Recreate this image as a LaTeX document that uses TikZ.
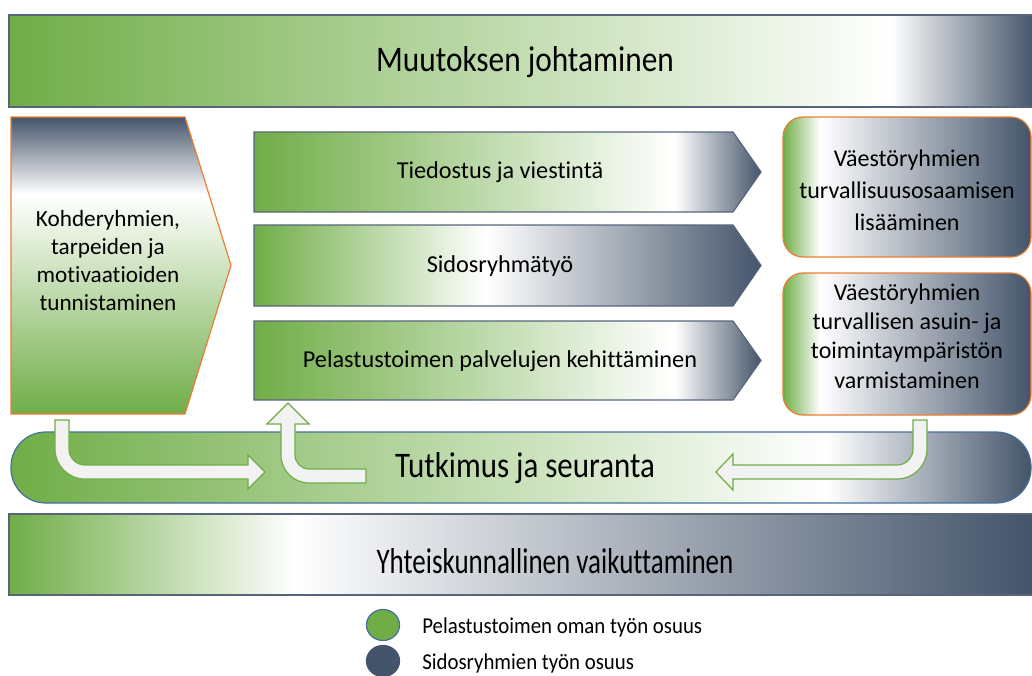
\documentclass[tikz,border=0pt]{standalone}
\usepackage{fontspec}
\setmainfont{Carlito}[Ligatures={NoCommon,NoContextual}]
\usetikzlibrary{shadings}
\definecolor{G}{HTML}{70AD47}
\definecolor{D}{HTML}{44546A}
\definecolor{OR}{HTML}{ED7D31}
\definecolor{BL}{HTML}{41719C}
\definecolor{SL}{HTML}{56657A}
\definecolor{AF}{HTML}{F2F2F2}
\pgfdeclarehorizontalshading{gTop}{100bp}{color(0bp)=(G); color(25bp)=(G); color(68bp)=(white); color(75bp)=(D); color(100bp)=(D)}
\pgfdeclarehorizontalshading{gChevA}{100bp}{color(0bp)=(G); color(25bp)=(G); color(66.5bp)=(white); color(75bp)=(D); color(100bp)=(D)}
\pgfdeclarehorizontalshading{gChevB}{100bp}{color(0bp)=(G); color(25bp)=(G); color(48bp)=(white); color(75bp)=(D); color(100bp)=(D)}
\pgfdeclarehorizontalshading{gBox}{100bp}{color(0bp)=(G); color(25bp)=(G); color(32.5bp)=(white); color(75bp)=(D); color(100bp)=(D)}
\pgfdeclarehorizontalshading{gMid}{100bp}{color(0bp)=(G); color(25bp)=(G); color(65bp)=(white); color(75bp)=(D); color(100bp)=(D)}
\pgfdeclarehorizontalshading{gBot}{100bp}{color(0bp)=(G); color(25bp)=(G); color(39bp)=(white); color(75bp)=(D); color(100bp)=(D)}
\pgfdeclareverticalshading{gLeft}{100bp}{color(0bp)=(G); color(25bp)=(G); color(62bp)=(white); color(75bp)=(D); color(100bp)=(D)}
\tikzset{
  band/.style={draw=SL, line width=0.9pt},
  chev/.style={draw=SL, line width=0.9pt},
  obox/.style={draw=OR, line width=0.9pt, rounded corners=15pt},
  barrow/.style={fill=AF, draw=G, line width=0.9pt},
  bigtxt/.style={font=\fontsize{27pt}{32pt}\selectfont, inner sep=0pt},
  chevtxt/.style={font=\fontsize{18.2pt}{22pt}\selectfont, inner sep=0pt},
  lefttxt/.style={font=\fontsize{17.4pt}{21pt}\selectfont, align=center, inner sep=0pt},
  boxtxtA/.style={font=\fontsize{18pt}{24pt}\selectfont, align=center, inner sep=0pt},
  boxtxtB/.style={font=\fontsize{18pt}{22pt}\selectfont, align=center, inner sep=0pt},
  legtxt/.style={font=\fontsize{17pt}{20pt}\selectfont, anchor=west, inner sep=0pt},
}
\begin{document}
\begin{tikzpicture}[x=0.75pt,y=-0.75pt]
\path[use as bounding box] (0,0) rectangle (1032,675);
\clip (0,0) rectangle (1032,675);
\fill[white] (0,0) rectangle (1032,675);

% top band
\path[band, shading=gTop] (9,15) rectangle (1034,107);
\node[bigtxt] (top) at (525,62) {\scalebox{0.87}[1]{Muutoksen johtaminen}};

% left pentagon
\path[draw=OR, line width=0.9pt, shading=gLeft] (11,117) -- (185,117) -- (231,265.5) -- (185,414) -- (11,414) -- cycle;
\node[lefttxt] (left) at (108,261) {Kohderyhmien,\\tarpeiden ja\\motivaatioiden\\tunnistaminen};

% chevrons
\path[chev, shading=gChevA] (254,132) -- (733,132) -- (761,172) -- (733,212) -- (254,212) -- cycle;
\node[chevtxt] (c1) at (500,172) {Tiedostus ja viestintä};
\path[chev, shading=gChevB] (254,225) -- (733,225) -- (761,265.5) -- (733,306) -- (254,306) -- cycle;
\node[chevtxt] (c2) at (500,266) {Sidosryhmätyö};
\path[chev, shading=gChevA] (254,321) -- (733,321) -- (761,360.5) -- (733,400) -- (254,400) -- cycle;
\node[chevtxt] (c3) at (500,361) {Pelastustoimen palvelujen kehittäminen};

% right boxes
\path[obox, shading=gBox] (783,117) rectangle (1031,257);
\node[boxtxtA] (r1) at (907,190) {Väestöryhmien\\turvallisuusosaamisen\\lisääminen};
\path[obox, shading=gBox] (783,273) rectangle (1031,415);
\node[boxtxtB] (r2) at (907,336) {Väestöryhmien\\turvallisen asuin- ja\\toimintaympäristön\\varmistaminen};

% middle band
\path[draw=BL, line width=0.9pt, rounded corners=26pt, shading=gMid] (11,432) rectangle (1031,503);

% block arrows
\path[barrow] (55,420) -- (55,449) .. controls (55,465.6) and (68.4,479) .. (85,479) -- (248,479) -- (248,489) -- (265,472) -- (248,455) -- (248,465) -- (85,465) .. controls (76.2,465) and (69,457.8) .. (69,449) -- (69,420) -- cycle;
\path[barrow] (288,403) -- (309,424) -- (295,424) -- (295,455) .. controls (295,462.7) and (301.3,469) .. (309,469) -- (366,469) -- (366,483) -- (309,483) .. controls (293.5,483) and (281,470.5) .. (281,455) -- (281,424) -- (267,424) -- cycle;
\path[barrow] (913,420) -- (927,420) -- (927,449) .. controls (927,465.6) and (913.6,479) .. (897,479) -- (733,479) -- (733,490) -- (716,472) -- (733,454) -- (733,465) -- (897,465) .. controls (905.8,465) and (913,457.8) .. (913,449) -- cycle;

\node[bigtxt] (mid) at (525,468) {\scalebox{0.86}[1]{Tutkimus ja seuranta}};

% bottom band
\path[band, shading=gBot] (9,514) rectangle (1034,595);
\node[bigtxt] (bot) at (555,561) {\scalebox{0.75}[1]{Yhteiskunnallinen vaikuttaminen}};

% legend
\path[fill=G, draw=BL, line width=0.9pt] (383,625) ellipse [x radius=16.5, y radius=15.5];
\node[legtxt] (l1) at (422,627) {\scalebox{0.92}[1]{Pelastustoimen oman työn osuus}};
\path[fill=D, draw=D, line width=0.9pt] (383,661) ellipse [x radius=16.5, y radius=15.5];
\node[legtxt] (l2) at (422,663) {\scalebox{0.92}[1]{Sidosryhmien työn osuus}};
\end{tikzpicture}
\end{document}
